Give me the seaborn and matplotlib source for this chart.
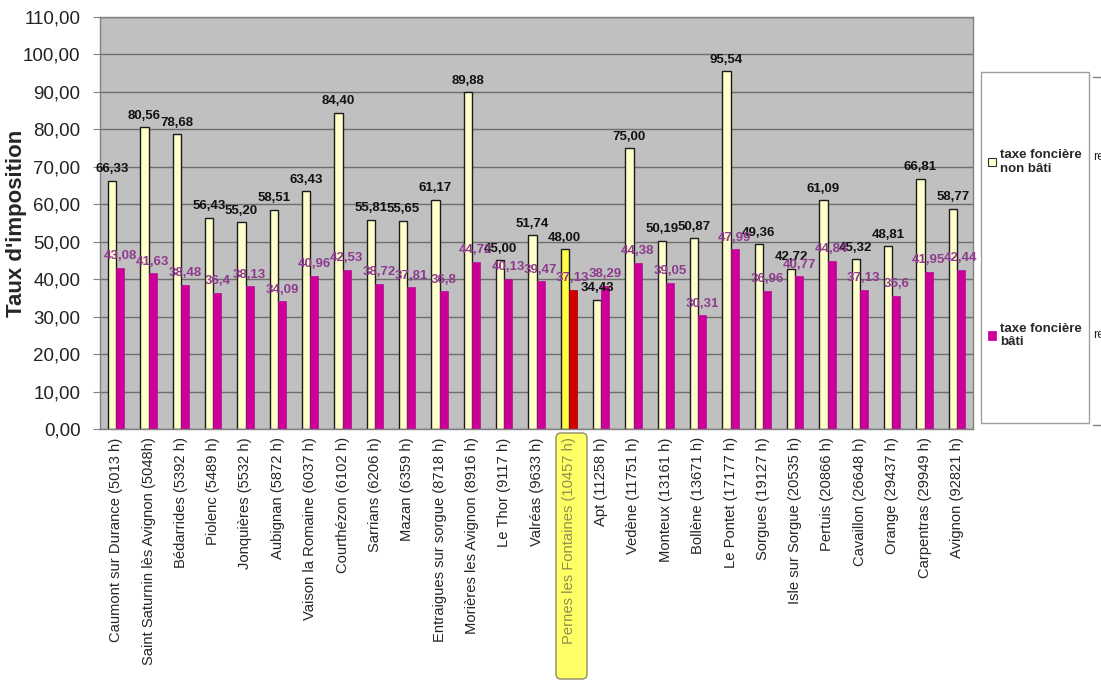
import numpy as np
import pandas as pd
import matplotlib
matplotlib.use('Agg')
import matplotlib.pyplot as plt
import seaborn as sns
from matplotlib.patches import Patch, Rectangle, FancyBboxPatch
from matplotlib.lines import Line2D
from matplotlib.transforms import IdentityTransform

communes = ['Caumont sur Durance (5013 h)', 'Saint Saturnin lès Avignon (5048h)',
            'Bédarrides (5392 h)', 'Piolenc (5489 h)', 'Jonquières (5532 h)',
            'Aubignan (5872 h)', 'Vaison la Romaine (6037 h)', 'Courthézon (6102 h)',
            'Sarrians (6206 h)', 'Mazan (6359 h)', 'Entraigues sur sorgue (8718 h)',
            'Morières les Avignon (8916 h)', 'Le Thor (9117 h)', 'Valréas (9633 h)',
            'Pernes les Fontaines (10457 h)', 'Apt (11258 h)', 'Vedène (11751 h)',
            'Monteux (13161 h)', 'Bollène (13671 h)', 'Le Pontet (17177 h)',
            'Sorgues (19127 h)', 'Isle sur Sorgue (20535 h)', 'Pertuis (20866 h)',
            'Cavaillon (26648 h)', 'Orange (29437 h)', 'Carpentras (29949 h)',
            'Avignon (92821 h)']
non_bati = [66.33, 80.56, 78.68, 56.43, 55.20, 58.51, 63.43, 84.40, 55.81, 55.65,
            61.17, 89.88, 45.00, 51.74, 48.00, 34.43, 75.00, 50.19, 50.87, 95.54,
            49.36, 42.72, 61.09, 45.32, 48.81, 66.81, 58.77]
bati = [43.08, 41.63, 38.48, 36.4, 38.13, 34.09, 40.96, 42.53, 38.72, 37.81,
        36.8, 44.72, 40.13, 39.47, 37.13, 38.29, 44.38, 39.05, 30.31, 47.99,
        36.96, 40.77, 44.84, 37.13, 35.6, 41.95, 42.44]
series = ['taxe foncière\nnon bâti', 'taxe foncière\nbâti']
highlight = 'Pernes les Fontaines (10457 h)'

df = pd.DataFrame({
    'commune': communes * 2,
    'taux': non_bati + bati,
    'serie': [series[0]] * len(communes) + [series[1]] * len(communes),
})

sns.set_style('white')
plt.rcParams['font.family'] = ['Liberation Sans', 'DejaVu Sans']

fig = plt.figure(figsize=(11.01, 6.8), dpi=100)
ax = fig.add_axes([100 / 1101, 1 - 429 / 680, 873 / 1101, 412 / 680])

yellow, pink = '#ffffcc', '#cc0099'
sns.barplot(data=df, x='commune', y='taux', hue='serie', palette=[yellow, pink],
            width=0.5, saturation=1, errorbar=None, legend=False, ax=ax)

hi = communes.index(highlight)
for p in ax.containers[0]:
    p.set_edgecolor('#1a1a1a')
    p.set_linewidth(1)
for p in ax.containers[1]:
    p.set_edgecolor('#b0108c')
    p.set_linewidth(0.5)
ax.containers[0][hi].set_facecolor('#ffff44')
ax.containers[1][hi].set_facecolor('#d00000')
ax.containers[1][hi].set_edgecolor('#a00000')

ax.bar_label(ax.containers[0], labels=[f'{v:.2f}'.replace('.', ',') for v in non_bati],
             padding=4, fontsize=9.5, fontweight='bold', color='#111111')
ax.bar_label(ax.containers[1], labels=[f'{v:g}'.replace('.', ',') for v in bati],
             padding=4, fontsize=9.5, fontweight='bold', color='#8e3a8e')

ax.set_facecolor('#c0c0c0')
ax.set_ylim(0, 110)
ax.set_yticks(np.arange(0, 111, 10))
ax.set_yticklabels([f'{v:.2f}'.replace('.', ',') for v in np.arange(0, 111, 10)])
ax.yaxis.grid(True, color='#6e6e6e', linewidth=1)
ax.set_axisbelow(True)
for s in ax.spines.values():
    s.set_color('#808080')
    s.set_linewidth(1)

ax.set_xlim(-0.5, len(communes) - 0.5)
ax.set_xticks(np.arange(-0.5, len(communes), 1), minor=True)
ax.tick_params(axis='x', which='major', length=0, pad=6, labelsize=10.6, rotation=90)
ax.tick_params(axis='x', which='minor', length=5, color='#808080', direction='out')
ax.tick_params(axis='y', length=5, color='#808080', direction='out', left=True,
               pad=9, labelsize=13.5, labelcolor='#222222')
for lab in ax.get_xticklabels():
    if lab.get_text() == highlight:
        lab.set_color('#8f8f4f')

ax.set_xlabel('')
ax.set_ylabel("Taux d'imposition", fontsize=16, fontweight='bold')
ax.yaxis.set_label_coords(-73 / 873, 0.5)

# highlight box behind the Pernes label
fig.add_artist(FancyBboxPatch((556, 1), 31, 246, boxstyle='round,pad=0,rounding_size=5',
                              fc='#ffff66', ec='#8c8c6c', lw=1,
                              transform=IdentityTransform(), zorder=-1))

# legend
fig.add_artist(Rectangle((981 / 1101, 1 - 423 / 680), 108 / 1101, 351 / 680,
                         transform=fig.transFigure, fc='white', ec='#a0a0a0', lw=1))
handles = [Patch(facecolor=yellow, edgecolor='#333333', lw=0.8, label=series[0]),
           Patch(facecolor=pink, edgecolor=pink, lw=0.5, label=series[1])]
fig.legend(handles=handles, loc='upper left', bbox_to_anchor=(988 / 1101, 1 - 149 / 680),
           frameon=False, prop={'size': 9.5, 'weight': 'bold'}, handlelength=0.6,
           handleheight=0.6, handletextpad=0.3, labelspacing=11.2, borderpad=0,
           borderaxespad=0)

for yy in (160, 338):
    fig.text(1093 / 1101, 1 - yy / 680, 're', fontsize=9)
for yy in (77, 425):
    fig.add_artist(Line2D([1093 / 1101, 1], [1 - yy / 680] * 2, color='#808080', lw=1,
                          transform=fig.transFigure))

fig.savefig('out.png', dpi=100)
